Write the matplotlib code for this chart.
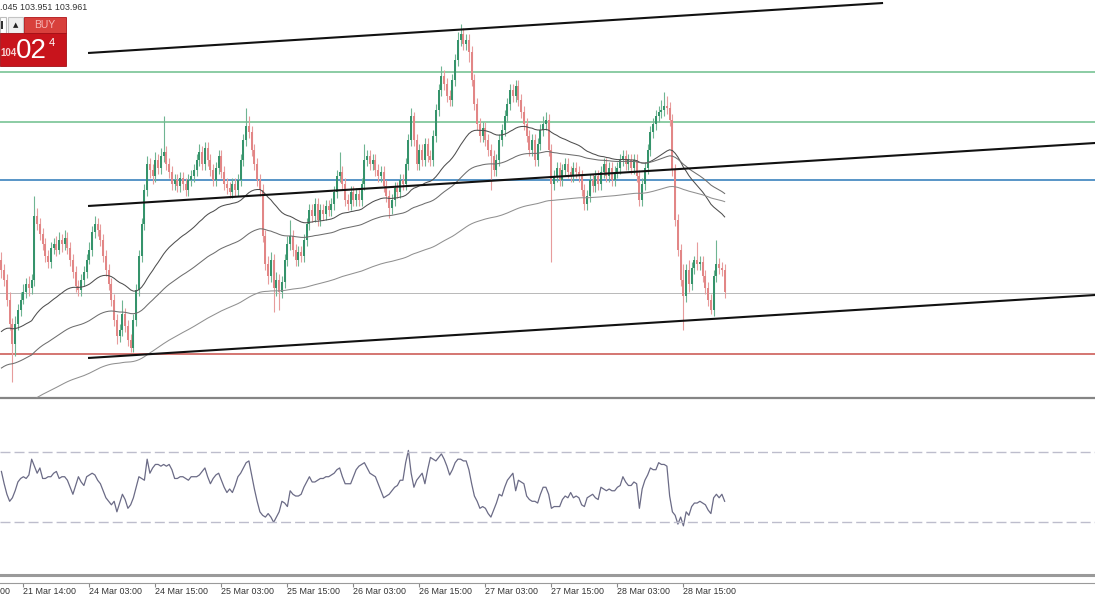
import numpy as np
import pandas as pd
import matplotlib
matplotlib.use('Agg')
from matplotlib import pyplot as plt
from matplotlib.patches import Rectangle

plt.rcParams['font.family'] = ['Liberation Sans', 'DejaVu Sans']

W, H = 1095, 600

# USDJPY M30, one close/high/low per bar (open = previous close)
first_open = 103.70
closes = [
    103.65, 103.60, 103.50, 103.38, 103.28, 103.38, 103.45, 103.50, 103.54, 103.58, 103.56, 103.60,
    103.92, 103.88, 103.83, 103.78, 103.72, 103.69, 103.76, 103.78, 103.75, 103.80, 103.78, 103.81,
    103.76, 103.70, 103.64, 103.57, 103.55, 103.60, 103.64, 103.70, 103.75, 103.84, 103.88, 103.85,
    103.80, 103.72, 103.65, 103.58, 103.50, 103.40, 103.32, 103.35, 103.43, 103.37, 103.30, 103.26,
    103.40, 103.55, 103.72, 103.88, 104.05, 104.18, 104.15, 104.12, 104.20, 104.16, 104.22, 104.24,
    104.18, 104.14, 104.08, 104.10, 104.07, 104.11, 104.08, 104.05, 104.10, 104.12, 104.15, 104.20,
    104.24, 104.18, 104.26, 104.20, 104.15, 104.10, 104.16, 104.22, 104.14, 104.08, 104.06, 104.04,
    104.08, 104.05, 104.10, 104.20, 104.30, 104.37, 104.34, 104.25, 104.18, 104.10, 104.05, 103.82,
    103.68, 103.62, 103.70, 103.56, 103.60, 103.54, 103.59, 103.70, 103.78, 103.82, 103.75, 103.70,
    103.74, 103.72, 103.80, 103.88, 103.95, 103.92, 103.98, 103.90, 103.95, 103.93, 103.97, 103.95,
    103.98, 104.04, 104.12, 104.14, 104.08, 104.00, 103.98, 104.04, 104.00, 104.03, 104.00, 104.08,
    104.20, 104.22, 104.18, 104.20, 104.15, 104.12, 104.14, 104.07, 104.02, 103.96, 104.00, 104.06,
    104.04, 104.10, 104.08, 104.18, 104.30, 104.42, 104.30, 104.18, 104.25, 104.20, 104.28, 104.22,
    104.20, 104.32, 104.45, 104.55, 104.62, 104.58, 104.52, 104.50, 104.60, 104.70, 104.80, 104.83,
    104.78, 104.80, 104.74, 104.60, 104.48, 104.38, 104.32, 104.36, 104.30, 104.25, 104.22, 104.15,
    104.20, 104.30, 104.35, 104.42, 104.48, 104.55, 104.52, 104.57, 104.50, 104.44, 104.38, 104.32,
    104.25, 104.30, 104.20, 104.28, 104.35, 104.38, 104.40, 104.25, 104.08, 104.12, 104.16, 104.10,
    104.15, 104.18, 104.14, 104.12, 104.16, 104.14, 104.12, 104.05, 103.98, 104.02, 104.10, 104.07,
    104.12, 104.08, 104.14, 104.18, 104.12, 104.16, 104.10, 104.14, 104.16, 104.20, 104.22, 104.18,
    104.20, 104.16, 104.20, 104.12, 104.00, 104.08, 104.16, 104.25, 104.34, 104.38, 104.42, 104.44,
    104.45, 104.47, 104.46, 104.40, 104.15, 103.90, 103.75, 103.60, 103.52, 103.65, 103.58, 103.66,
    103.70, 103.68, 103.69, 103.62, 103.56, 103.50, 103.45, 103.62, 103.68, 103.66, 103.65, 103.54,
]
highs = [
    103.74, 103.68, 103.63, 103.54, 103.41, 103.42, 103.48, 103.54, 103.58, 103.61, 103.62, 103.63,
    104.02, 103.96, 103.91, 103.86, 103.81, 103.75, 103.79, 103.81, 103.82, 103.84, 103.83, 103.85,
    103.84, 103.79, 103.73, 103.67, 103.60, 103.63, 103.67, 103.73, 103.79, 103.87, 103.92, 103.91,
    103.88, 103.83, 103.75, 103.68, 103.61, 103.53, 103.43, 103.38, 103.50, 103.46, 103.40, 103.33,
    103.43, 103.58, 103.75, 103.91, 104.08, 104.22, 104.21, 104.18, 104.24, 104.23, 104.26, 104.42,
    104.27, 104.21, 104.17, 104.13, 104.13, 104.14, 104.14, 104.11, 104.13, 104.15, 104.18, 104.23,
    104.28, 104.27, 104.29, 104.29, 104.23, 104.18, 104.19, 104.25, 104.25, 104.17, 104.11, 104.09,
    104.11, 104.11, 104.13, 104.23, 104.33, 104.46, 104.42, 104.37, 104.28, 104.21, 104.13, 104.08,
    103.85, 103.72, 103.74, 103.73, 103.64, 103.63, 103.62, 103.73, 103.82, 103.90, 103.85, 103.78,
    103.77, 103.77, 103.83, 103.91, 103.98, 103.98, 104.01, 104.01, 103.98, 103.98, 104.00, 104.00,
    104.01, 104.07, 104.15, 104.24, 104.17, 104.11, 104.03, 104.07, 104.07, 104.06, 104.06, 104.11,
    104.28, 104.25, 104.25, 104.23, 104.23, 104.18, 104.17, 104.17, 104.10, 104.05, 104.03, 104.09,
    104.09, 104.13, 104.13, 104.21, 104.33, 104.46, 104.44, 104.33, 104.28, 104.28, 104.31, 104.31,
    104.25, 104.35, 104.48, 104.58, 104.67, 104.65, 104.61, 104.55, 104.63, 104.73, 104.84, 104.88,
    104.86, 104.83, 104.83, 104.77, 104.63, 104.51, 104.41, 104.39, 104.39, 104.33, 104.28, 104.25,
    104.23, 104.33, 104.38, 104.45, 104.51, 104.58, 104.58, 104.60, 104.60, 104.53, 104.47, 104.41,
    104.35, 104.33, 104.33, 104.31, 104.38, 104.42, 104.44, 104.43, 104.28, 104.15, 104.19, 104.19,
    104.18, 104.21, 104.21, 104.17, 104.19, 104.19, 104.17, 104.15, 104.08, 104.05, 104.13, 104.13,
    104.15, 104.15, 104.17, 104.21, 104.21, 104.19, 104.19, 104.17, 104.19, 104.23, 104.25, 104.25,
    104.23, 104.23, 104.23, 104.23, 104.15, 104.11, 104.19, 104.28, 104.37, 104.41, 104.45, 104.47,
    104.50, 104.54, 104.52, 104.49, 104.43, 104.18, 103.93, 103.78, 103.68, 103.68, 103.70, 103.69,
    103.72, 103.79, 103.72, 103.72, 103.65, 103.59, 103.53, 103.65, 103.80, 103.71, 103.69, 103.68,
]
lows = [
    103.61, 103.57, 103.47, 103.35, 103.09, 103.22, 103.35, 103.42, 103.48, 103.51, 103.52, 103.53,
    103.57, 103.85, 103.80, 103.75, 103.69, 103.66, 103.66, 103.73, 103.72, 103.73, 103.74, 103.75,
    103.73, 103.67, 103.61, 103.54, 103.52, 103.52, 103.57, 103.61, 103.68, 103.72, 103.81, 103.82,
    103.77, 103.69, 103.62, 103.55, 103.47, 103.37, 103.28, 103.29, 103.32, 103.34, 103.27, 103.24,
    103.24, 103.37, 103.52, 103.69, 103.85, 104.02, 104.11, 104.08, 104.09, 104.13, 104.13, 104.19,
    104.15, 104.11, 104.05, 104.05, 104.04, 104.04, 104.05, 104.02, 104.02, 104.07, 104.09, 104.12,
    104.17, 104.15, 104.15, 104.17, 104.12, 104.07, 104.07, 104.13, 104.11, 104.05, 104.03, 104.01,
    104.01, 104.02, 104.02, 104.07, 104.17, 104.27, 104.31, 104.22, 104.15, 104.07, 104.02, 103.79,
    103.65, 103.58, 103.59, 103.44, 103.52, 103.45, 103.51, 103.56, 103.67, 103.75, 103.72, 103.67,
    103.67, 103.69, 103.69, 103.77, 103.85, 103.89, 103.89, 103.87, 103.87, 103.90, 103.90, 103.92,
    103.92, 103.95, 104.01, 104.09, 104.05, 103.97, 103.95, 103.95, 103.97, 103.97, 103.97, 103.97,
    104.05, 104.17, 104.15, 104.15, 104.12, 104.09, 104.09, 104.04, 103.99, 103.91, 103.93, 103.97,
    104.01, 104.01, 104.05, 104.05, 104.15, 104.27, 104.27, 104.15, 104.15, 104.17, 104.17, 104.19,
    104.17, 104.17, 104.29, 104.42, 104.52, 104.55, 104.49, 104.47, 104.47, 104.57, 104.67, 104.77,
    104.75, 104.75, 104.69, 104.57, 104.45, 104.35, 104.29, 104.29, 104.27, 104.22, 104.05, 104.12,
    104.12, 104.17, 104.27, 104.32, 104.39, 104.45, 104.49, 104.49, 104.47, 104.41, 104.35, 104.29,
    104.22, 104.22, 104.17, 104.17, 104.25, 104.32, 104.35, 104.22, 103.69, 104.05, 104.09, 104.07,
    104.07, 104.12, 104.11, 104.09, 104.09, 104.11, 104.09, 104.02, 103.95, 103.95, 103.99, 104.04,
    104.04, 104.05, 104.05, 104.11, 104.09, 104.09, 104.07, 104.07, 104.11, 104.13, 104.17, 104.15,
    104.15, 104.13, 104.13, 104.09, 103.97, 103.97, 104.05, 104.13, 104.22, 104.31, 104.35, 104.39,
    104.41, 104.42, 104.43, 104.37, 104.12, 103.87, 103.72, 103.57, 103.35, 103.49, 103.54, 103.55,
    103.63, 103.65, 103.65, 103.59, 103.53, 103.47, 103.43, 103.42, 103.59, 103.63, 103.62, 103.51,
]
rsi = [
    59, 52, 46, 42, 44, 48, 53, 55, 56, 55, 57, 66,
    62, 58, 61, 55, 55, 56, 56, 58, 59, 55, 56, 56,
    54, 50, 46, 51, 56, 53, 51, 56, 57, 58, 57, 54,
    52, 48, 44, 42, 40, 42, 36, 41, 46, 43, 38, 40,
    44, 50, 56, 55, 54, 66, 58, 61, 63, 63, 62, 63,
    62, 63, 60, 55, 55, 56, 56, 55, 54, 56, 56, 56,
    57, 59, 61, 56, 52, 55, 57, 58, 54, 50, 47, 49,
    47, 51, 56, 58, 61, 64, 65, 57, 49, 42, 36, 34,
    33, 35, 33, 30, 33, 36, 42, 41, 39, 48, 46, 45,
    45, 46, 50, 53, 56, 53, 53, 54, 55, 55, 56, 56,
    57, 58, 60, 61, 56, 52, 52, 52, 56, 60, 62, 63,
    64, 61, 58, 57, 56, 52, 48, 44, 45, 46, 48, 50,
    51, 54, 54, 64, 71, 58, 50, 54, 56, 58, 52, 60,
    67, 66, 65, 67, 69, 66, 62, 57, 60, 64, 66, 66,
    65, 65, 60, 52, 45, 42, 38, 39, 38, 35, 33, 37,
    41, 46, 45, 50, 54, 56, 58, 48, 54, 53, 52, 45,
    43, 42, 42, 41, 46, 50, 50, 46, 38, 39, 39, 39,
    43, 45, 44, 47, 44, 45, 44, 40, 39, 44, 45, 46,
    44, 43, 50, 49, 48, 49, 48, 48, 50, 51, 56, 53,
    51, 51, 53, 52, 38, 49, 54, 57, 61, 60, 60, 64,
    63, 63, 62, 45, 36, 34, 29, 33, 28, 36, 34, 39,
    41, 41, 42, 41, 40, 37, 35, 44, 46, 44, 46, 42,
]

# moving averages: period and value just before the first visible bar
ma_spans = [50, 100, 200]
ma_seeds = [103.33, 103.15, 102.93]
ma_colors = ['#4e4e4e', '#6e6e6e', '#909090']

levels = [104.64, 104.39, 104.10, 103.535, 103.23]
level_colors = ['#6cbf8c', '#6cbf8c', '#2a78b8', '#b8b8b8', '#c9504a']
level_widths = [1.1, 1.1, 1.1, 0.7, 1.1]

# trend lines drawn on the chart: (bar, price) end points
trend_lines = [
    [(31.5, 104.735), (320.6, 104.985)],
    [(31.5, 103.97), (397.7, 104.285)],
    [(31.5, 103.21), (397.7, 103.525)],
]

tick_bars = [-16, 8, 32, 56, 80, 104, 128, 152, 176, 200, 224, 248]
tick_labels = ['21 Mar 02:00', '21 Mar 14:00', '24 Mar 03:00', '24 Mar 15:00',
               '25 Mar 03:00', '25 Mar 15:00', '26 Mar 03:00', '26 Mar 15:00',
               '27 Mar 03:00', '27 Mar 15:00', '28 Mar 03:00', '28 Mar 15:00']
quote_text = '.045 103.951 103.961'

assert len(closes) == len(highs) == len(lows) == len(rsi)

XLIM = (-0.51, 397.67)


def fy(py):
    return 1 - py / H


def px_rect(fig, x0, y0, x1, y1, **kw):
    fig.add_artist(Rectangle((x0 / W, fy(y1)), (x1 - x0) / W, (y1 - y0) / H,
                             transform=fig.transFigure, **kw))


fig = plt.figure(figsize=(W / 100, H / 100), dpi=100)
fig.patch.set_facecolor('white')

# ---- price panel
ax = fig.add_axes([0, fy(398), 1, 398 / H])
x = np.arange(len(closes))
c = np.array(closes)
o = np.array([first_open] + closes[:-1])
up = c >= o

for lv, col, lw in zip(levels, level_colors, level_widths):
    ax.axhline(lv, color=col, lw=lw, zorder=1)

wick_col = np.where(up, '#6fb592', '#e79c9c')
ax.vlines(x, lows, highs, colors=wick_col, lw=0.8, zorder=2)
body_h = np.maximum(np.abs(c - o), 0.006)
ax.bar(x, body_h, bottom=np.minimum(o, c), width=0.78,
       color=np.where(up, '#35936b', '#e28686'), lw=0, zorder=3)

for span, seed, col in zip(ma_spans, ma_seeds, ma_colors):
    ma = pd.Series([seed] + closes).ewm(span=span, adjust=False).mean().values[1:]
    ax.plot(x, ma, color=col, lw=0.75, zorder=4)

for (x0, y0), (x1, y1) in trend_lines:
    ax.plot([x0, x1], [y0, y1], color='#111111', lw=1.5, zorder=5,
            solid_capstyle='butt')

ax.set_xlim(*XLIM)
ax.set_ylim(103.01, 105.00)
ax.set_xticks([])
ax.set_yticks([])
for s in ['top', 'left', 'right']:
    ax.spines[s].set_visible(False)
ax.spines['bottom'].set_color('#858585')
ax.spines['bottom'].set_linewidth(1.6)

# ---- RSI panel
ax_r = fig.add_axes([0, fy(575), 1, 175.5 / H])
ax_r.plot(x, rsi, color='#6b6b86', lw=0.9)
for lv in (70, 30):
    ax_r.axhline(lv, color='#bdbdcc', lw=1.0, dashes=(7.2, 2.9))
ax_r.set_xlim(*XLIM)
ax_r.set_ylim(0, 100)
ax_r.set_xticks([])
ax_r.set_yticks([])
for s in ['top', 'left', 'right']:
    ax_r.spines[s].set_visible(False)
ax_r.spines['bottom'].set_color('#9a9a9a')
ax_r.spines['bottom'].set_linewidth(2.2)

# ---- time axis
ax_t = fig.add_axes([0, fy(583), 1, 5 / H])
ax_t.set_xlim(*XLIM)
ax_t.set_yticks([])
for s in ['top', 'left', 'right']:
    ax_t.spines[s].set_visible(False)
ax_t.spines['bottom'].set_color('#9a9a9a')
ax_t.spines['bottom'].set_linewidth(0.8)
ax_t.set_xticks([b for b in tick_bars if b >= XLIM[0]])
ax_t.set_xticklabels([])
ax_t.tick_params(axis='x', direction='out', length=3, width=0.8, color='#8a8a8a')
for b, lbl in zip(tick_bars, tick_labels):
    ax_t.annotate(lbl, xy=(b, 0), xycoords=('data', 'axes fraction'),
                  xytext=(-0.5, -3.2), textcoords='offset points',
                  ha='left', va='top', fontsize=6.4, color='#333333',
                  annotation_clip=False)

# ---- quote line and one-click trading box
fig.text(0, fy(8), quote_text, fontsize=6.4, color='#333333', va='center', ha='left')
px_rect(fig, 0, 17, 6, 33, fc='white', ec='#bdbdbd', lw=0.8)
px_rect(fig, 0.5, 21, 2.5, 29, fc='#333333', ec='none')
px_rect(fig, 8, 17, 23, 33, fc='#f0f0f0', ec='#c4c4c4', lw=0.8)
fig.text(15.5 / W, fy(25), '\u25b2', fontsize=5, color='#222222',
         ha='center', va='center', family='DejaVu Sans')
px_rect(fig, 24, 17, 66, 33, fc='#d8403c', ec='#b01418', lw=0.6)
fig.text(45 / W, fy(25.5), 'BUY', fontsize=7.5, color='#f6b9b9', ha='center', va='center')
px_rect(fig, 0, 33, 66, 66, fc='#c8141c', ec='#a30f15', lw=0.6)
fig.text(0 / W, fy(53), '104', fontsize=7, color='#f6d2d2', ha='left', va='center',
         weight='bold')
fig.text(31.5 / W, fy(51), '02', fontsize=20, color='white', ha='center', va='center')
fig.text(52 / W, fy(43), '4', fontsize=8, color='white', ha='center', va='center')

fig.savefig('out.png', dpi=100, facecolor='white')
